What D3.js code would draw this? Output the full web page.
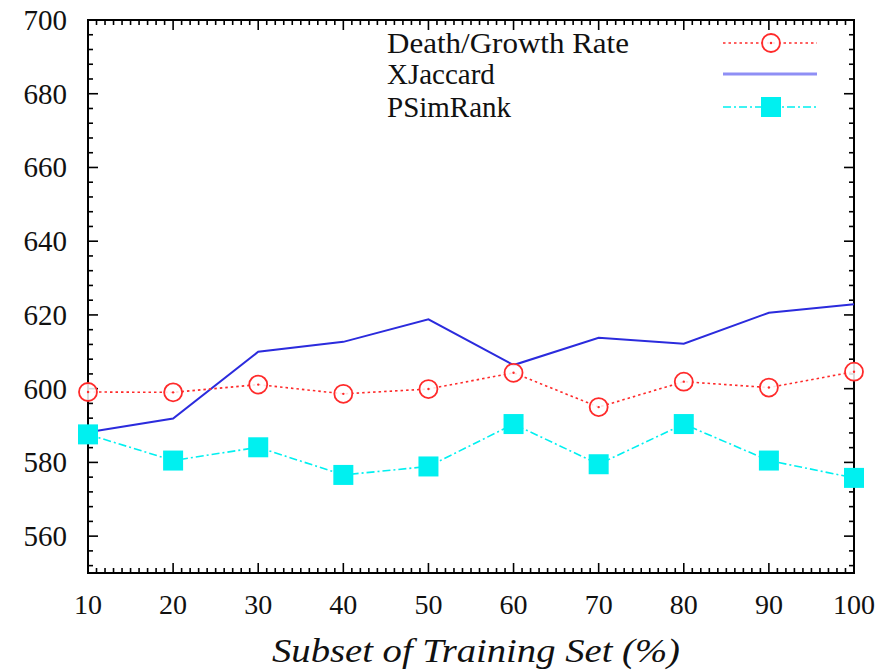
<!DOCTYPE html>
<html>
<head>
<meta charset="utf-8">
<script src="https://cdn.jsdelivr.net/npm/d3@7"></script>
<style>
  html, body { margin: 0; padding: 0; background: #fff; }
  text { font-family: "Liberation Serif", "DejaVu Serif", serif; fill: #111; }
</style>
</head>
<body>
<svg id="chart" width="896" height="670"></svg>
<script>
// ---- data ----
const xValues = [10, 20, 30, 40, 50, 60, 70, 80, 90, 100];
const deathGrowth = [599.1, 599.0, 601.1, 598.6, 599.9, 604.3, 595.0, 601.9, 600.3, 604.6];
const xJaccard    = [588.2, 591.9, 610.0, 612.7, 618.8, 606.4, 613.8, 612.2, 620.6, 622.9];
const pSimRank    = [587.6, 580.5, 584.1, 576.6, 578.9, 590.4, 579.5, 590.4, 580.5, 575.8];
const seriesNames = ["Death/Growth Rate", "XJaccard", "PSimRank"];
const xTickLabels = [10, 20, 30, 40, 50, 60, 70, 80, 90, 100];
const yTickLabels = [560, 580, 600, 620, 640, 660, 680, 700];
const xTitle = "Subset of Training Set (%)";

// ---- layout ----
const svg = d3.select("#chart");
const L = 88, R = 854, T = 20, B = 573;
const x = d3.scaleLinear().domain([10, 100]).range([L, R]);
const y = d3.scaleLinear().domain([550, 700]).range([B, T]);

// ticks (inward, mirrored on all four sides)
const g = svg.append("g");
const xMinor = d3.range(11, 100, 1).filter(v => v % 10 !== 0);
const yMinor = d3.range(552, 700, 4).filter(v => v % 20 !== 0);
const tick = (x1, y1, x2, y2) => g.append("line")
  .attr("x1", x1).attr("y1", y1).attr("x2", x2).attr("y2", y2)
  .attr("stroke", "#000").attr("stroke-width", 1.6);
xTickLabels.forEach(v => { tick(x(v), B, x(v), B - 10); tick(x(v), T, x(v), T + 10); });
xMinor.forEach(v => { tick(x(v), B, x(v), B - 5); tick(x(v), T, x(v), T + 5); });
yTickLabels.forEach(v => { tick(L, y(v), L + 10, y(v)); tick(R, y(v), R - 10, y(v)); });
yMinor.forEach(v => { tick(L, y(v), L + 5, y(v)); tick(R, y(v), R - 5, y(v)); });

// frame
svg.append("rect").attr("x", L).attr("y", T).attr("width", R - L).attr("height", B - T)
  .attr("fill", "none").attr("stroke", "#000").attr("stroke-width", 2);

// tick labels
svg.append("g").selectAll("text").data(yTickLabels).join("text")
  .attr("x", 67).attr("y", d => y(d) + 10)
  .attr("text-anchor", "end").attr("font-size", 29).text(d => d);
svg.append("g").selectAll("text").data(xTickLabels).join("text")
  .attr("x", d => x(d)).attr("y", 614)
  .attr("text-anchor", "middle").attr("font-size", 28).text(d => d);

// axis title
svg.append("text").attr("x", (272 + 680) / 2).attr("y", 662)
  .attr("text-anchor", "middle").attr("font-size", 33).attr("font-style", "italic")
  .attr("textLength", 408).attr("lengthAdjust", "spacingAndGlyphs")
  .text(xTitle);

// series
const line = d3.line().x((d, i) => x(xValues[i])).y(d => y(d));
const red = "#ff2a2a", blue = "#2b2bdd", cyan = "#00f0f0";

svg.append("path").datum(xJaccard).attr("d", line)
  .attr("fill", "none").attr("stroke", blue).attr("stroke-width", 2);

svg.append("path").datum(deathGrowth).attr("d", line)
  .attr("fill", "none").attr("stroke", red).attr("stroke-width", 1.6)
  .attr("stroke-dasharray", "2.5,3");

svg.append("path").datum(pSimRank).attr("d", line)
  .attr("fill", "none").attr("stroke", cyan).attr("stroke-width", 1.6)
  .attr("stroke-dasharray", "8,3,2,3");

// markers
const circ = (cx, cy) => {
  svg.append("circle").attr("cx", cx).attr("cy", cy).attr("r", 9)
    .attr("fill", "#fff").attr("fill-opacity", 0.85)
    .attr("stroke", red).attr("stroke-width", 1.8);
  svg.append("circle").attr("cx", cx).attr("cy", cy).attr("r", 1.2).attr("fill", red);
};
const sq = (cx, cy) => svg.append("rect").attr("x", cx - 10).attr("y", cy - 10)
  .attr("width", 20).attr("height", 20).attr("fill", cyan);

deathGrowth.forEach((v, i) => circ(x(xValues[i]), y(v)));
pSimRank.forEach((v, i) => sq(x(xValues[i]), y(v)));

// legend
const legY = [43, 74, 107];
const legText = [242, null, null];
seriesNames.forEach((n, i) => {
  const t = svg.append("text").attr("x", 387).attr("y", legY[i] + 10)
    .attr("font-size", 29).text(n);
  if (legText[i]) t.attr("textLength", legText[i]).attr("lengthAdjust", "spacingAndGlyphs");
});
svg.append("line").attr("x1", 723).attr("x2", 817).attr("y1", legY[0]).attr("y2", legY[0])
  .attr("stroke", red).attr("stroke-width", 1.6).attr("stroke-dasharray", "2.5,3");
circ(771, legY[0]);
svg.append("line").attr("x1", 723).attr("x2", 817).attr("y1", legY[1]).attr("y2", legY[1])
  .attr("stroke", "#8f8ff5").attr("stroke-width", 3);
svg.append("line").attr("x1", 723).attr("x2", 817).attr("y1", legY[2]).attr("y2", legY[2])
  .attr("stroke", cyan).attr("stroke-width", 1.6).attr("stroke-dasharray", "8,3,2,3");
sq(771, legY[2]);
</script>
</body>
</html>
